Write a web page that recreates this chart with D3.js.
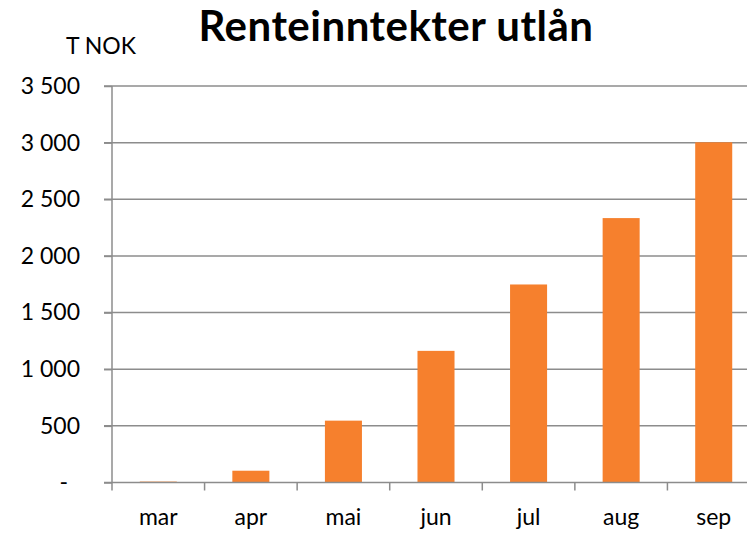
<!DOCTYPE html>
<head>
  <script src="https://d3js.org/d3.v7.min.js"></script>
  <style>
  body {margin: 0; background: white;}
  text {font-family: Lato, "Open Sans", sans-serif; fill: #000;}
  .grid line {stroke: #8c8c8c; stroke-width: 1.5px;}
  .axis path, .axis line {stroke: #8c8c8c; stroke-width: 1.5px;}
  #title {font-weight: bold; font-size: 42px; text-anchor: middle; letter-spacing: 0.5px;}
  </style>
</head>
<body>
  <svg id="chart" width="747" height="534"></svg>
  <script>
  var months = ["mar", "apr", "mai", "jun", "jul", "aug", "sep"];
  var values = [8, 104, 546, 1162, 1748, 2334, 3003];
  var yTicks = [0, 500, 1000, 1500, 2000, 2500, 3000, 3500];

  var svg = d3.select("#chart");
  var plotLeft = 112, plotRight = 760, plotTop = 86, plotBottom = 482.5;

  var x = d3.scaleBand().domain(months).range([plotLeft, plotRight]).paddingInner(0.6).paddingOuter(0.3);
  var xTick = d3.scaleBand().domain(months).range([plotLeft, plotRight]);
  var y = d3.scaleLinear().domain([0, 3500]).range([plotBottom, plotTop]);

  var fmt = function(d) {
    return d == 0 ? "-" : d3.format(",")(d).replace(",", " ");
  };

  // gridlines
  svg.append("g").attr("class", "grid")
    .selectAll("line").data(yTicks.slice(1)).enter().append("line")
    .attr("x1", plotLeft - 8).attr("x2", 747)
    .attr("y1", function(d) { return y(d); })
    .attr("y2", function(d) { return y(d); });

  // bars
  svg.selectAll("rect.bar").data(values).enter().append("rect")
    .attr("class", "bar")
    .attr("x", function(d, i) { return x(months[i]); })
    .attr("width", x.bandwidth())
    .attr("y", function(d) { return y(d); })
    .attr("height", function(d) { return plotBottom - y(d); })
    .attr("fill", "#f6802d");

  // y axis
  var yAxis = svg.append("g").attr("class", "axis")
    .attr("transform", "translate(" + plotLeft + ",0)")
    .call(d3.axisLeft(y).tickValues(yTicks).tickSize(8).tickPadding(24).tickFormat(fmt));
  yAxis.select(".domain").attr("d", "M0," + y(3500) + "V" + (plotBottom + 8));
  yAxis.selectAll("text").style("font-size", "23px")
    .attr("dx", function(d) { return d == 0 ? -12 : 0; });

  // x axis
  var xAxis = svg.append("g").attr("class", "axis")
    .attr("transform", "translate(0," + plotBottom + ")");
  xAxis.append("line").attr("x1", plotLeft - 8).attr("x2", 747).attr("y1", 0).attr("y2", 0);
  xAxis.selectAll("line.tick").data(months.slice(1)).enter().append("line")
    .attr("x1", function(d) { return xTick(d); })
    .attr("x2", function(d) { return xTick(d); })
    .attr("y1", 0).attr("y2", 8);
  xAxis.selectAll("text").data(months).enter().append("text")
    .attr("x", function(d) { return xTick(d) + xTick.bandwidth() / 2; })
    .attr("y", 42.5)
    .attr("text-anchor", "middle")
    .style("font-size", "23px")
    .text(function(d) { return d; });

  svg.append("text").attr("x", 66).attr("y", 54)
    .style("font-size", "23px").text("T NOK");
  svg.append("text").attr("id", "title").attr("x", 396).attr("y", 41).text("Renteinntekter utlån");
  </script>
</body>
